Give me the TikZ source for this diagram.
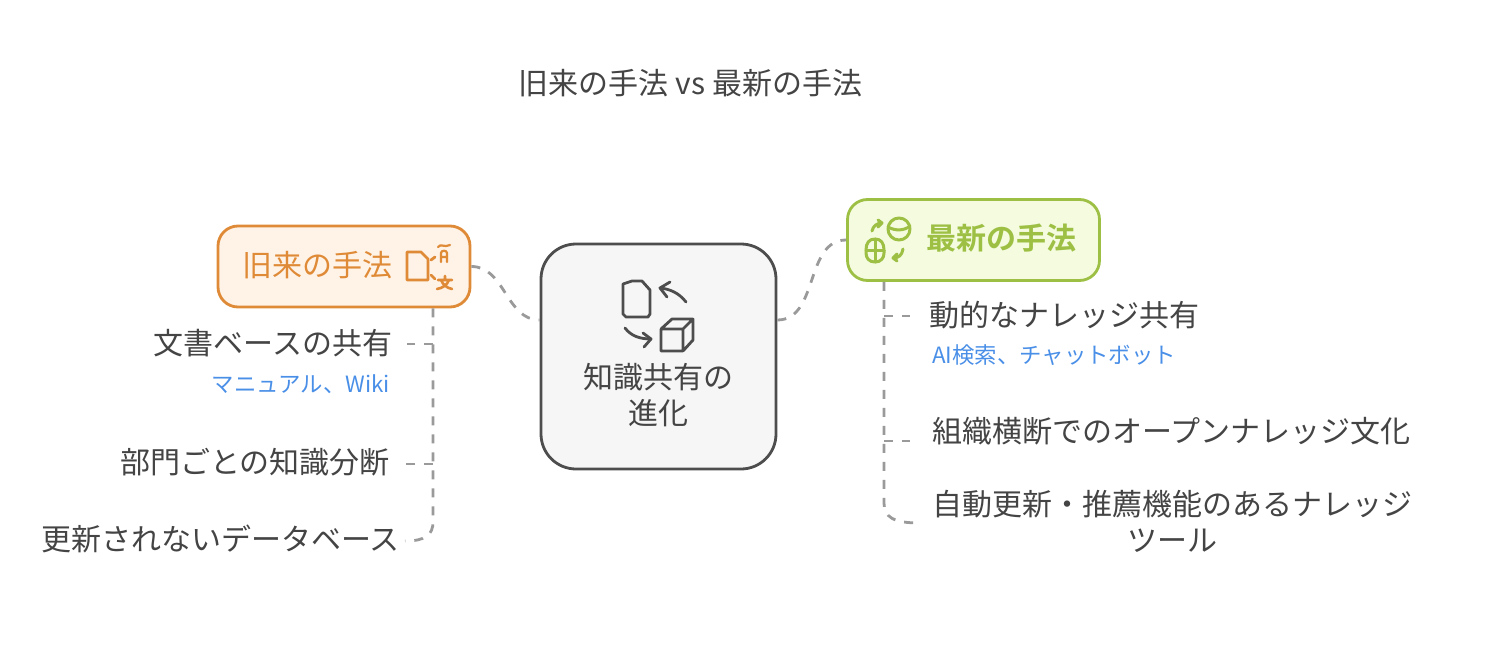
\documentclass[tikz,border=0pt]{standalone}
\usepackage{fontspec}
\setmainfont{Noto Sans CJK JP}
\newfontfamily\boldjp[BoldFont={Noto Sans CJK JP Bold}]{Noto Sans CJK JP}
\definecolor{inkgrey}{HTML}{444444}
\definecolor{linkblue}{HTML}{4A8FE7}
\definecolor{wiregrey}{HTML}{9A9A9A}
\definecolor{oldline}{HTML}{DF8A36}
\definecolor{oldfill}{HTML}{FFF2E6}
\definecolor{newline}{HTML}{9DC044}
\definecolor{newfill}{HTML}{F4FBDF}
\definecolor{hubline}{HTML}{4D4D4D}
\definecolor{hubfill}{HTML}{F6F6F6}
\begin{document}
\begin{tikzpicture}[x=1pt, y=-1pt,
    every node/.style={inner sep=0pt, text=inkgrey, font=\fontsize{30}{36}\selectfont},
    box/.style={draw, line width=2.8pt, rounded corners=20pt, minimum width=252pt, minimum height=81pt},
    hubbox/.style={box, draw=hubline, fill=hubfill, rounded corners=35pt, minimum width=235pt, minimum height=225pt},
    oldbox/.style={box, draw=oldline, fill=oldfill},
    newbox/.style={box, draw=newline, fill=newfill},
    item/.style={text height=26pt, text depth=3.6pt},
    note/.style={text=linkblue, font=\fontsize{22.4}{26}\selectfont, text height=19pt, text depth=3pt},
    wire/.style={draw=wiregrey, line width=2.8pt, dash pattern=on 9pt off 9pt},
    icon/.style={line width=#1, line cap=round, line join=round},
    icon/.default=2.8pt]
  \useasboundingbox (0,0) rectangle (1506,669);

  \node (title) at (690.5,83) {旧来の手法 vs 最新の手法};

  \node[hubbox] (hub) at (658.5,356.5) {};
  \node[oldbox] (old) at (344,266.5) {};
  \node[newbox] (new) at (973.5,240) {};

  \node[anchor=east, text=oldline, item] (oldlabel) at (393,265) {旧来の手法};
  \node[anchor=west, text=newline, item, font=\fontsize{30}{36}\boldjp\bfseries] (newlabel) at (926,238) {最新の手法};
  \node[align=center] (hublabel) at (658.5,395) {知識共有の\\進化};

  % left branch
  \node[anchor=east, item] (docs) at (392.5,343) {文書ベースの共有};
  \node[anchor=east, note] (docsnote) at (390,384) {マニュアル、Wiki};
  \node[anchor=east, item] (silo) at (390,462) {部門ごとの知識分断};
  \node[anchor=east, item] (stale) at (400,539) {更新されないデータベース};

  % right branch
  \node[anchor=west, item] (live) at (929,315) {動的なナレッジ共有};
  \node[anchor=west, note] (livenote) at (932,355) {AI検索、チャットボット};
  \node[anchor=west, item] (open) at (932,431) {組織横断でのオープンナレッジ文化};
  \node[align=center] (auto) at (1172.5,521) {自動更新・推薦機能のあるナレッジ\\ツール};

  \coordinate (hubin) at (hub.west |- 0,320);
  \coordinate (hubout) at (hub.east |- 0,320);
  \coordinate (oldfoot) at (433,0 |- old.south);
  \coordinate (newfoot) at (884,0 |- new.south);
  \coordinate (oldA) at (433,344);
  \coordinate (oldB) at (433,464);
  \coordinate (newA) at (884,316);
  \coordinate (newB) at (884,441);
  \coordinate (docsend) at (407,344);
  \coordinate (siloend) at (405,464);
  \coordinate (staleend) at (405,541);
  \coordinate (liveend) at (910,316);
  \coordinate (openend) at (910,441);
  \coordinate (autoend) at (920,523);

  \draw[wire] (old.east) to[out=0, in=180] (hubin);
  \draw[wire] (hubout) to[out=0, in=180] (new.west);

  \draw[wire] (oldfoot) -- (433,522) .. controls (433,535) and (425,541) .. (staleend);
  \draw[wire] (oldA) -- (docsend);
  \draw[wire] (oldB) -- (siloend);

  \draw[wire] (newfoot) -- (884,503) .. controls (884,517) and (893,523) .. (autoend);
  \draw[wire] (newA) -- (liveend);
  \draw[wire] (newB) -- (openend);

  % hub icon
  \draw[hubline, icon] (632,281) -- (642,281) -- (650,290) -- (650,314) -- (648,317) -- (626,317) -- (623,314) -- (623,284) -- cycle;
  \draw[hubline, icon] (686,302) .. controls (679,293) and (670,289) .. (660,288);
  \draw[hubline, icon] (670,282) -- (660,288) -- (667,297);
  \draw[hubline, icon] (625,328) .. controls (631,336) and (640,339) .. (651,339);
  \draw[hubline, icon] (643,333) -- (651,339) -- (644,347);
  \draw[hubline, icon] (661,329) -- (683,329) -- (683,351) -- (661,351) -- cycle (661,329) -- (672,319) -- (693,319) -- (693,340) -- (683,351) (683,329) -- (693,319);

  % old icon
  \draw[oldline, icon] (407,252) -- (421,252) -- (428,259) -- (428,280) -- (407,280) -- cycle;
  \draw[oldline, icon] (431,260) -- (435,257) (431,275) -- (435,279);
  \draw[oldline, icon=2.2pt] (438,247) .. controls (441,243) and (444,248) .. (450,245);
  \draw[oldline, icon=2.2pt] (441,262) -- (441,253) .. controls (441,250) and (447,250) .. (447,253) -- (447,262) (441,257) -- (447,257);
  \draw[oldline, icon=2.6pt] (438,280) -- (452,280) (445,276) -- (445,280) (441,280) .. controls (443,285) and (447,288) .. (452,289) (449,280) .. controls (447,285) and (443,288) .. (437,289);

  % new icon
  \draw[newline, icon=3pt] (899,229) circle[radius=11pt];
  \draw[newline, icon=3pt] (888,227) .. controls (895,231) and (904,231) .. (910,226);
  \draw[newline, icon=3pt] (872,231) .. controls (873,226) and (877,223) .. (882,223) (878,220) -- (882,223) -- (878,227);
  \draw[newline, icon=3pt] (866,250) .. controls (866,243) and (869,239) .. (875,239) .. controls (881,239) and (884,243) .. (884,250) -- (884,253) .. controls (884,258) and (881,262) .. (875,262) .. controls (869,262) and (866,258) .. (866,253) -- cycle;
  \draw[newline, icon=3pt] (866,250) -- (884,250) (875,239) -- (875,262);
  \draw[newline, icon=3pt] (903,249) .. controls (902,255) and (899,258) .. (893,258) (897,254) -- (893,258) -- (897,261);
\end{tikzpicture}
\end{document}
